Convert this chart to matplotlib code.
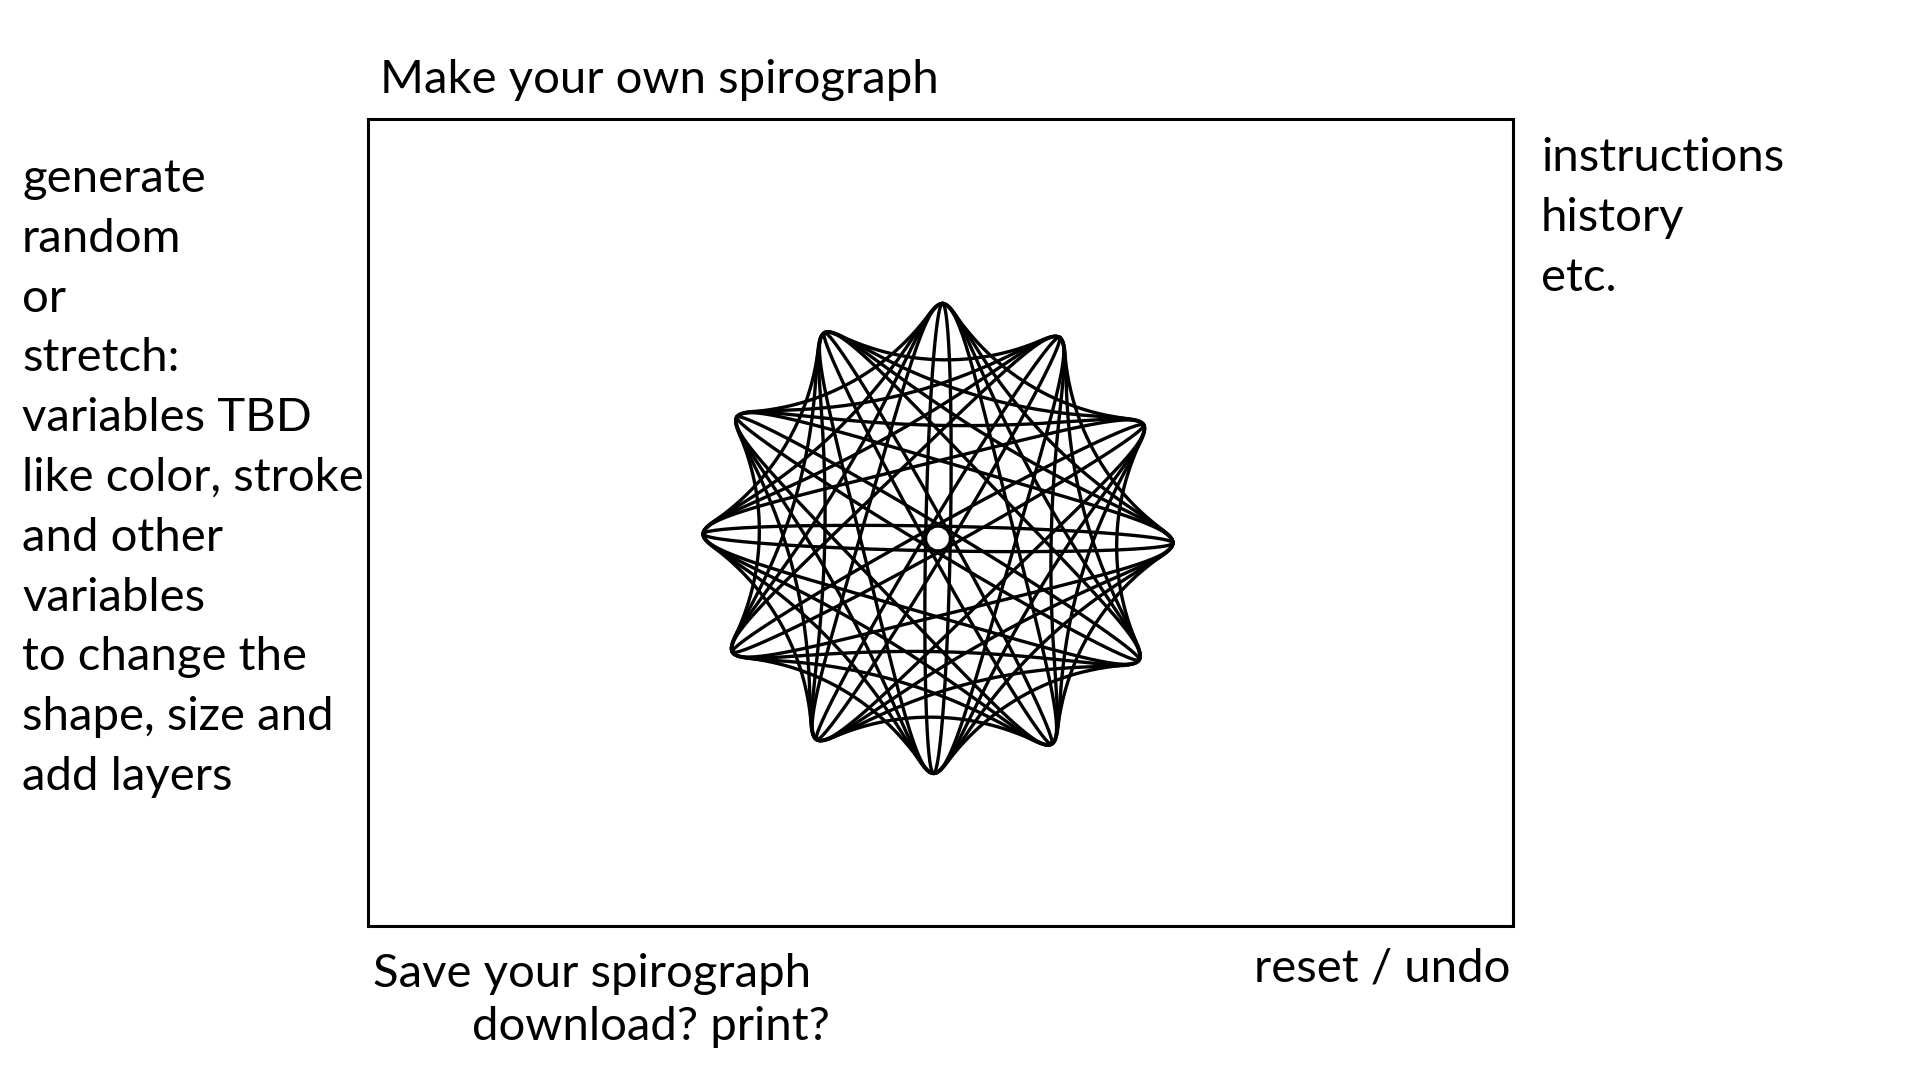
import numpy as np
import matplotlib
matplotlib.use("Agg")
import matplotlib.pyplot as plt

# text of the mock-up
title = "Make your own spirograph"
left_lines = ["generate", "random", "or", "stretch:", "variables TBD",
              "like color, stroke", "and other", "variables",
              "to change the", "shape, size and", "add layers"]
right_lines = ["instructions", "history", "etc."]
save_lines = ["Save your spirograph", "download? print?"]
reset_text = "reset / undo"

# spirograph layers: ring teeth / wheel teeth ratio = p/q, copies rotated by 30 deg
layer_p = [6, 4, 3, 12, 2]
layer_q = [1, 1, 1, 5, 1]
layer_copies = [2, 3, 4, 1, 6]
layer_pen = [0.68, 0.68, 0.7, 0.72, 0.9]   # pen hole distance / wheel radius
tilt_deg = -1.1                             # drawing is slightly turned

FONT = "Lato"
FS = 34

fig = plt.figure(figsize=(19.2, 10.8), dpi=100)
ax = fig.add_axes([0, 0, 1, 1])
ax.set_xlim(0, 1920)
ax.set_ylim(1080, 0)
ax.axis("off")

# frame of the drawing area
ax.plot([367.5, 1513, 1513, 367.5, 367.5], [119, 119, 925.5, 925.5, 119],
        color="black", lw=2.2, solid_joinstyle="miter")

# spirograph
cx, cy, size = 938, 538.5, 235
for p, q, n, h in zip(layer_p, layer_q, layer_copies, layer_pen):
    t = np.linspace(0, 2 * np.pi * q, 4000 * q)
    d = h * q
    z = (p - q) * np.exp(1j * t) + d * np.exp(-1j * (p - q) / q * t)
    z = z / (p - q + d)
    for k in range(n):
        zz = z * np.exp(1j * np.deg2rad(30 * k + tilt_deg))
        ax.plot(cx + size * zz.real, cy - size * zz.imag, color="black", lw=2.4)

# labels
ax.text(380, 93, title, fontsize=FS, family=FONT, va="baseline", ha="left")
for i, s in enumerate(left_lines):
    ax.text(22, 192 + 59.8 * i, s, fontsize=FS, family=FONT, va="baseline", ha="left")
for i, s in enumerate(right_lines):
    ax.text(1541, 171 + 59.8 * i, s, fontsize=FS, family=FONT, va="baseline", ha="left")
ax.text(373, 987, save_lines[0], fontsize=FS, family=FONT, va="baseline", ha="left")
ax.text(472, 1040, save_lines[1], fontsize=FS, family=FONT, va="baseline", ha="left")
ax.text(1510, 981, reset_text, fontsize=FS, family=FONT, va="baseline", ha="right")

fig.savefig("out.png", dpi=100, facecolor="white")
